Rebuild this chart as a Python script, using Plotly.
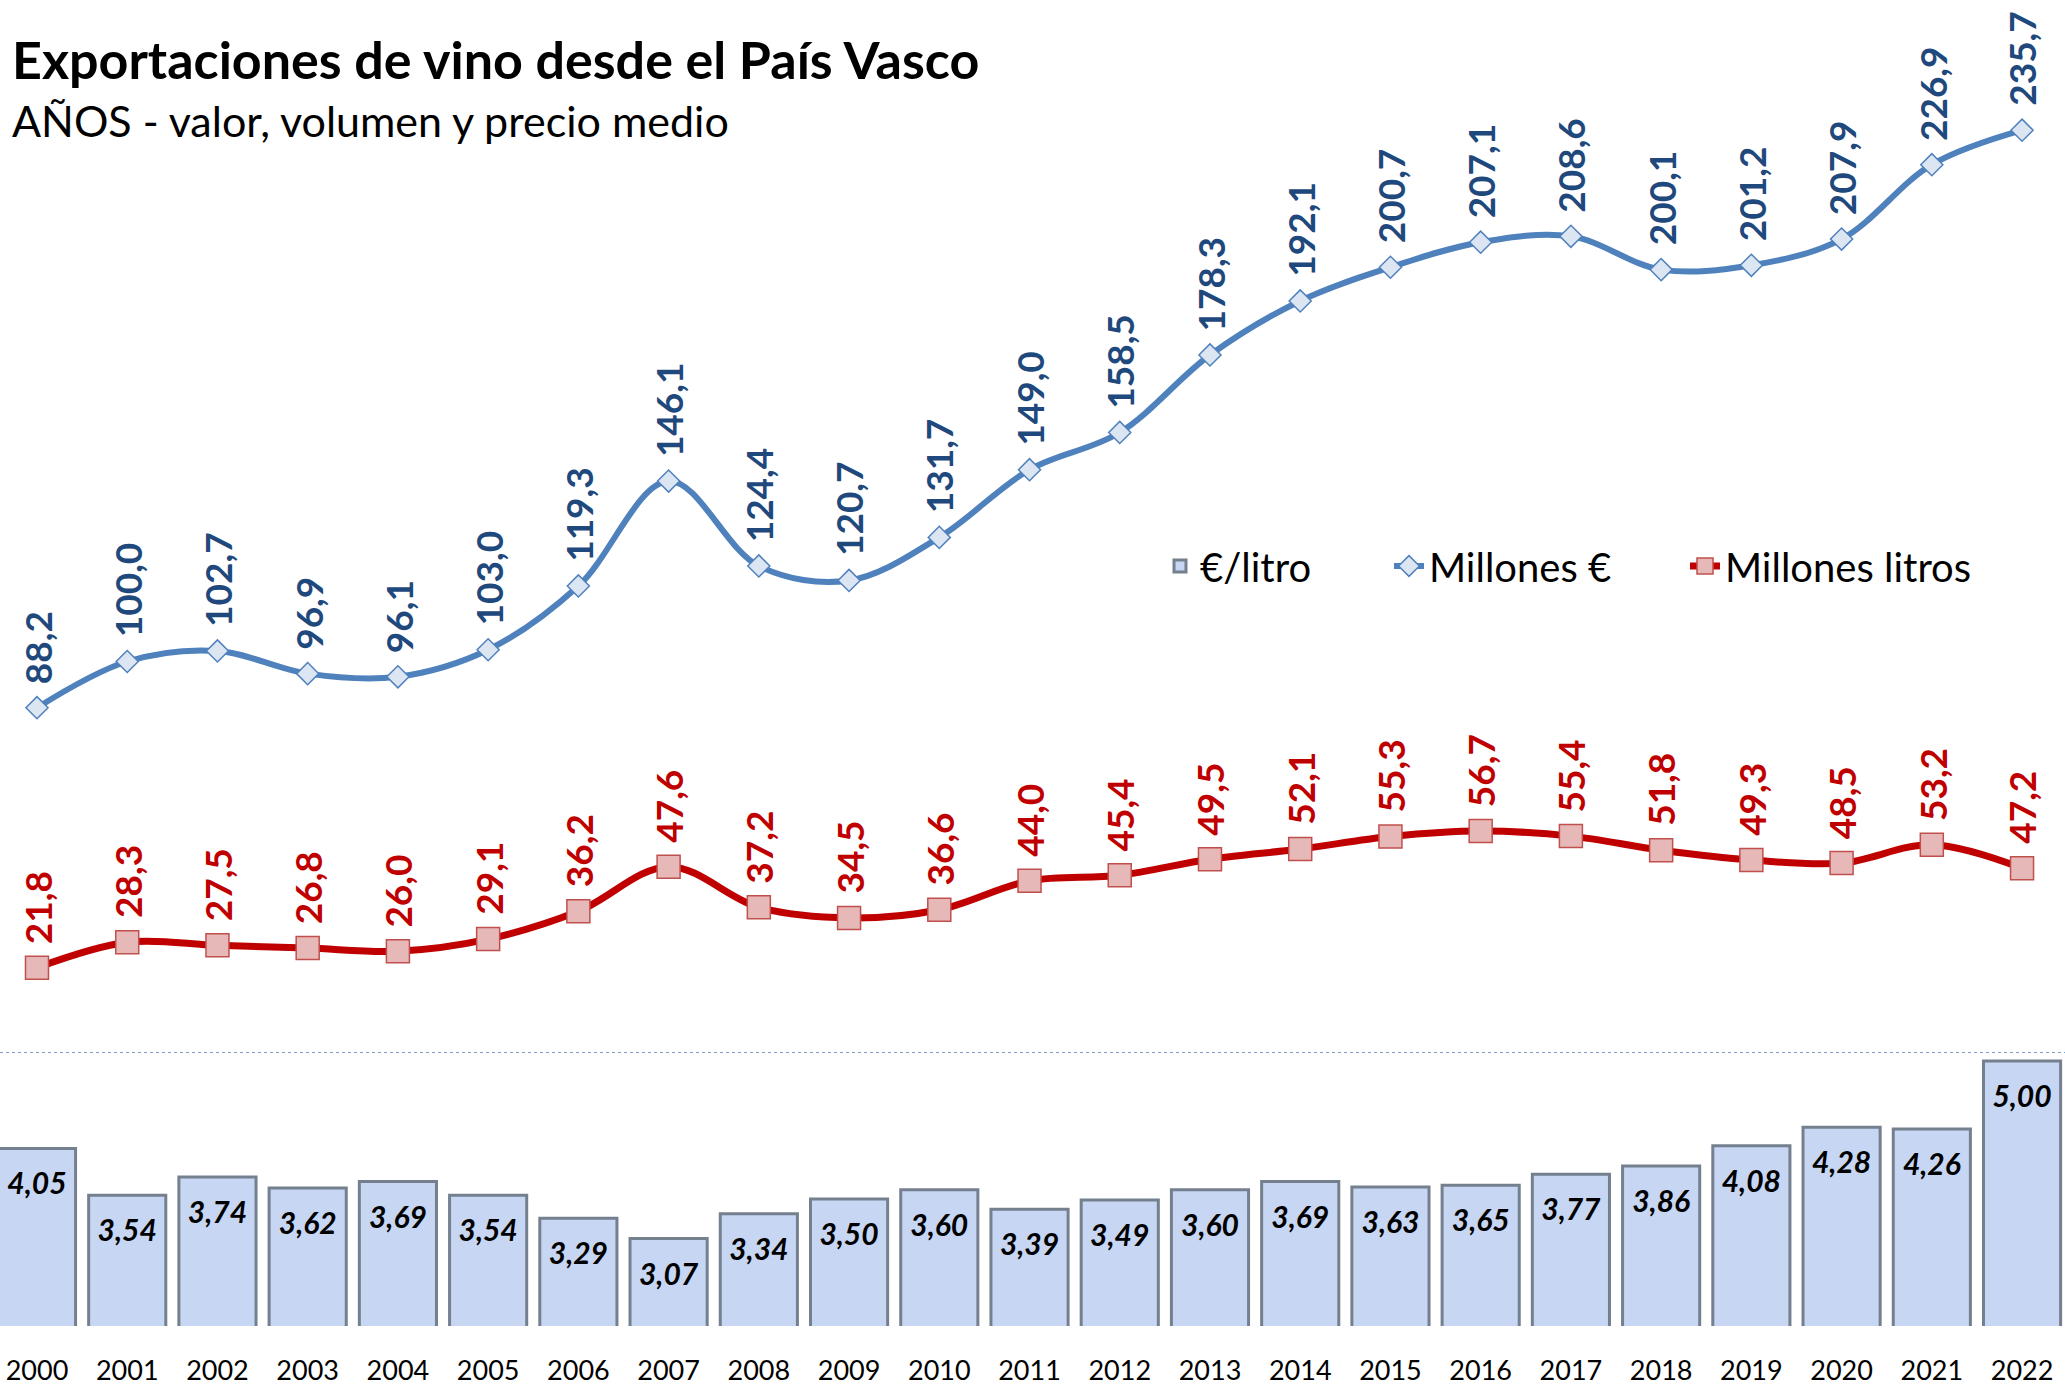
import plotly.graph_objects as go

years = list(range(2000, 2023))
year_labels = [str(y) for y in years]
millones_eur = [88.2, 100.0, 102.7, 96.9, 96.1, 103.0, 119.3, 146.1, 124.4, 120.7, 131.7, 149.0,
                158.5, 178.3, 192.1, 200.7, 207.1, 208.6, 200.1, 201.2, 207.9, 226.9, 235.7]
millones_litros = [21.8, 28.3, 27.5, 26.8, 26.0, 29.1, 36.2, 47.6, 37.2, 34.5, 36.6, 44.0,
                   45.4, 49.5, 52.1, 55.3, 56.7, 55.4, 51.8, 49.3, 48.5, 53.2, 47.2]
eur_litro = [4.05, 3.54, 3.74, 3.62, 3.69, 3.54, 3.29, 3.07, 3.34, 3.50, 3.60, 3.39,
             3.49, 3.60, 3.69, 3.63, 3.65, 3.77, 3.86, 4.08, 4.28, 4.26, 5.00]

title_text = "Exportaciones de vino desde el País Vasco"
subtitle_text = "AÑOS - valor, volumen y precio medio"

FONT = "Lato"
W, H = 2065, 1385
MB = 59
PH = H - MB


def fmt(v, d):
    return f"{v:.{d}f}".replace(".", ",")


fig = go.Figure()

# Bars (€/litro)
fig.add_trace(go.Bar(
    x=years, y=eur_litro, name="€/litro", yaxis="y2", width=0.855,
    marker=dict(color="#C6D6F3", line=dict(color="#75808F", width=3)),
    legend="legend", hoverinfo="skip",
))
# Bar labels
fig.add_trace(go.Scatter(
    x=years, y=eur_litro, yaxis="y2", mode="markers+text",
    marker=dict(size=36, opacity=0),
    text=[fmt(v, 2) for v in eur_litro], textposition="bottom center",
    textfont=dict(family=FONT, size=30, color="black", weight="bold", style="italic"),
    showlegend=False, hoverinfo="skip", cliponaxis=False,
))
# Millones €
fig.add_trace(go.Scatter(
    x=years, y=millones_eur, name="Millones €", mode="lines+markers",
    line=dict(color="#4F81BD", width=6, shape="spline", smoothing=1.0),
    marker=dict(symbol="diamond", size=17, color="#DCE6F2", line=dict(color="#4F81BD", width=1.5)),
    cliponaxis=False, legend="legend2",
))
# Millones litros
fig.add_trace(go.Scatter(
    x=years, y=millones_litros, name="Millones litros", mode="lines+markers",
    line=dict(color="#C00000", width=7, shape="spline", smoothing=1.0),
    marker=dict(symbol="square", size=23, color="#E6B9B8", line=dict(color="#C0504D", width=1.5)),
    cliponaxis=False, legend="legend3",
))

annotations = []
for x, v in zip(years, millones_eur):
    annotations.append(dict(x=x, y=v, xref="x", yref="y", text=fmt(v, 1), showarrow=False,
                            textangle=-90, xanchor="center", yanchor="bottom", yshift=22,
                            font=dict(family=FONT, size=37, color="#1F497D", weight="bold")))
for x, v in zip(years, millones_litros):
    annotations.append(dict(x=x, y=v, xref="x", yref="y", text=fmt(v, 1), showarrow=False,
                            textangle=-90, xanchor="center", yanchor="bottom", yshift=22,
                            font=dict(family=FONT, size=37, color="#C00000", weight="bold")))

annotations.append(dict(x=10 / W, y=1 - 59 / PH, xref="paper", yref="paper", text=title_text,
                        showarrow=False, xanchor="left", yanchor="middle",
                        font=dict(family=FONT, size=52, color="black", weight="bold")))
annotations.append(dict(x=10 / W, y=1 - 120 / PH, xref="paper", yref="paper", text=subtitle_text,
                        showarrow=False, xanchor="left", yanchor="middle",
                        font=dict(family=FONT, size=43, color="black")))

line_bottom = 1053
line_top = 30
px_per_unit = 3.915
legend_font = dict(family=FONT, size=40, color="black")
legend_y = 1 - 566 / PH


def leg(xpix):
    return dict(orientation="h", x=xpix / W, y=legend_y, xanchor="left", yanchor="middle",
                font=legend_font, itemwidth=30, bgcolor="rgba(0,0,0,0)")


fig.update_layout(
    width=W, height=H,
    margin=dict(l=0, r=0, t=0, b=MB, autoexpand=False),
    paper_bgcolor="white", plot_bgcolor="white",
    xaxis=dict(range=[1999.59, 2022.476], tickvals=years, ticktext=year_labels,
               tickfont=dict(family=FONT, size=27, color="black"),
               showgrid=False, zeroline=False, showline=False, ticks="",
               ticklabelstandoff=26, anchor="y2", automargin=False),
    yaxis=dict(domain=[1 - line_bottom / PH, 1 - line_top / PH],
               range=[0, (line_bottom - line_top) / px_per_unit],
               visible=False, showgrid=False, zeroline=False, automargin=False),
    yaxis2=dict(domain=[0, 1 - line_bottom / PH], range=[2.12, 2.12 + (PH - line_bottom) / 92.0],
                visible=False, showgrid=False, zeroline=False, anchor="x", automargin=False),
    legend=leg(1160),
    legend2=leg(1389),
    legend3=leg(1685),
    annotations=annotations,
    shapes=[dict(type="line", xref="paper", yref="y", x0=0, x1=1, y0=0, y1=0,
                 line=dict(color="#4F81BD", width=1.5, dash="dot"))],
    showlegend=True,
)

fig.write_html("out.html", config={"displayModeBar": False},
               post_script="document.body.style.margin='0';document.body.style.overflow='hidden';")
